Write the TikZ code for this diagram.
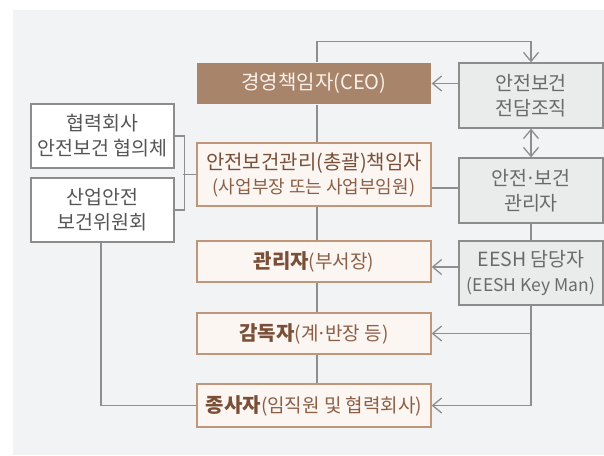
\documentclass[tikz,border=0pt]{standalone}
\usepackage{fontspec}
\setmainfont{Noto Sans CJK KR}
\usetikzlibrary{arrows.meta}
\definecolor{bgc}{HTML}{F2F3F5}
\definecolor{ceofill}{HTML}{A8846A}
\definecolor{ceotext}{HTML}{F8F2EC}
\definecolor{brfill}{HTML}{FCF6F3}
\definecolor{brdraw}{HTML}{C0967B}
\definecolor{brtext}{HTML}{8B5E45}
\definecolor{brdark}{HTML}{7A4F38}
\definecolor{lfdraw}{HTML}{8C8C8C}
\definecolor{lftext}{HTML}{555555}
\definecolor{rtfill}{HTML}{EAEBEB}
\definecolor{rttext}{HTML}{6A6A6A}
\definecolor{linec}{HTML}{8E8E8E}
\tikzset{
  x=1pt, y=-1pt,
  base/.style={rectangle, inner sep=0pt, align=center, line width=1.3pt,
    font=\fontsize{19.5}{25}\selectfont},
  ceobox/.style={base, fill=ceofill, text=ceotext, minimum width=234pt, minimum height=41pt,
    font=\fontsize{20}{25}\selectfont},
  brbox/.style={base, fill=brfill, draw=brdraw, text=brtext, minimum width=234pt,
    font=\fontsize{19}{25}\selectfont},
  lfbox/.style={base, fill=white, draw=lfdraw, text=lftext, minimum width=143pt, minimum height=64pt},
  rtbox/.style={base, fill=rtfill, draw=lfdraw, text=rttext, minimum width=144pt, minimum height=65pt},
  conn/.style={draw=linec, line width=1.3pt},
  arr/.style={conn, -{Straight Barb[length=9pt,width=15pt]}},
  arrr/.style={conn, {Straight Barb[length=9pt,width=15pt]}-{Straight Barb[length=9pt,width=15pt]}},
}
\newcommand{\emk}[1]{{\color{brdark}\fontsize{20}{25}\selectfont\bfseries #1}}
\newcommand{\mdot}{\kern-0.1em·\kern-0.1em}
\begin{document}
\begin{tikzpicture}
\useasboundingbox (0,0) rectangle (604,455);
\fill[bgc] (13,10) rectangle (604,455);

\node[ceobox] (ceo) at (314,83.5) {경영책임자(CEO)};
\node[brbox, minimum height=63pt] (gm) at (314,174.5) {\emk{\mdseries 안전보건관리(총괄)책임자}\\[-1pt]{\fontsize{18}{22}\selectfont (사업부장 또는 사업부임원)}};
\node[brbox, minimum height=41pt] (mg) at (314,261.5) {\emk{관리자}(부서장)};
\node[brbox, minimum height=41pt] (sv) at (314,333.5) {\emk{감독자}(계\mdot 반장 등)};
\node[brbox, minimum height=43pt] (em) at (314,405.5) {\emk{종사자}(임직원 및 협력회사)};

\node[lfbox] (l1) at (102.5,136) {협력회사\\안전보건 협의체};
\node[lfbox] (l2) at (102.5,210) {산업안전\\보건위원회};

\node[rtbox] (r1) at (531,95.5) {안전보건\\전담조직};
\node[rtbox] (r2) at (531,190.5) {안전\mdot 보건\\관리자};
\node[rtbox, minimum height=64pt] (r3) at (531,273) {EESH 담당자\\{\fontsize{17.5}{22}\selectfont (EESH Key Man)}};

% spine
\draw[conn] ([xshift=3pt]ceo.south) -- ([xshift=3pt]gm.north);
\draw[conn] ([xshift=3pt]gm.south) -- ([xshift=3pt]mg.north);
\draw[conn] ([xshift=3pt]mg.south) -- ([xshift=3pt]sv.north);
\draw[conn] ([xshift=3pt]sv.south) -- ([xshift=3pt]em.north);

% top loop
\draw[arr] ([xshift=3pt]ceo.north) -- ++(0,-21) -| (r1.north);
\draw[arr] (r1.west |- ceo.east) -- (ceo.east);
\draw[arrr] (r1.south) -- (r2.north);
\coordinate (gmr) at ([yshift=-13.5pt]gm.east);
\draw[conn] (gmr) -- (r2.west |- gmr);
\draw[conn] (r2.south) -- (r3.north);
\coordinate (mgr) at ([yshift=-5.5pt]mg.east);
\draw[arr] (r3.west |- mgr) -- (mgr);
\draw[arr] (r3.south) |- (em.east);
\draw[arr] (r3.south |- sv.east) -- (sv.east);

% left
\draw[conn] (l1.east) -- ++(10,0) |- (l2.east);
\draw[conn] (gm.west) -- ++(-13,0);
\draw[conn] ([xshift=-1.5pt]l2.south) |- (em.west);
\end{tikzpicture}
\end{document}
